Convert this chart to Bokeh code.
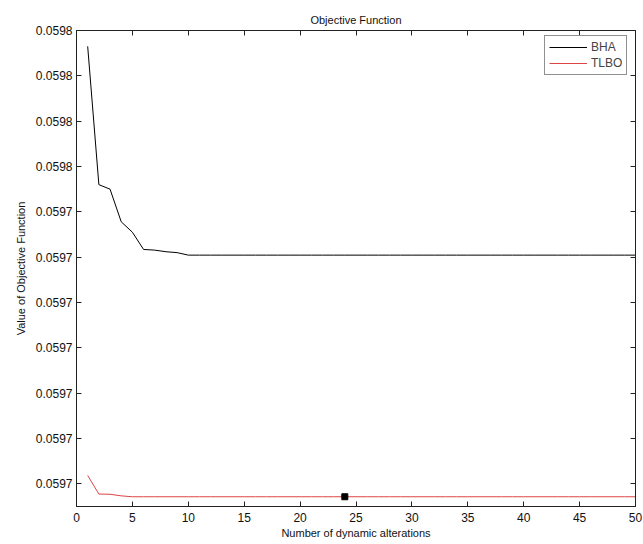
from bokeh.plotting import figure
from bokeh.models import (FixedTicker, CustomJSTickFormatter, LinearAxis, Legend,
                          LegendItem, Range1d, ColumnDataSource, CustomLabelingPolicy)
from bokeh.embed import file_html
from bokeh.resources import INLINE

# ---- data ----
iterations = list(range(1, 51))
bha = [0.0597553, 0.0597492, 0.0597490, 0.05974756, 0.0597471, 0.05974634, 0.05974631,
       0.05974624, 0.0597462] + [0.05974609] * 41
tlbo = [0.05973637, 0.05973555, 0.05973554, 0.05973547] + [0.05973543] * 46
marker_x = [24]
marker_y = [0.05973543]

x_ticks = [0, 5, 10, 15, 20, 25, 30, 35, 40, 45, 50]
y_ticks = [0.059736, 0.059738, 0.059740, 0.059742, 0.059744, 0.059746,
           0.059748, 0.059750, 0.059752, 0.059754, 0.059756]
y_tick_labels = ["0.0597", "0.0597", "0.0597", "0.0597", "0.0597", "0.0597",
                 "0.0597", "0.0598", "0.0598", "0.0598", "0.0598"]
y_min, y_max = 0.059735, 0.059756

FONT = "Liberation Sans"
AX = "#222222"

p = figure(width=643, height=544, min_border_left=76, min_border_right=8,
           min_border_top=30, min_border_bottom=38,
           x_range=Range1d(0, 50), y_range=Range1d(y_min, y_max),
           output_backend="svg", toolbar_location=None, title="Objective Function")

p.title.text_font = FONT
p.title.text_font_size = "11px"
p.title.text_font_style = "normal"
p.title.align = "center"
p.title.standoff = 10
p.title.text_color = "#111111"

p.xgrid.visible = False
p.ygrid.visible = False
p.outline_line_color = AX
p.background_fill_color = "white"
p.border_fill_color = "white"

xt = FixedTicker(ticks=x_ticks)
yt = FixedTicker(ticks=y_ticks)
yfmt = CustomJSTickFormatter(args=dict(tvals=y_ticks, tlabels=y_tick_labels), code="""
let best = 0;
for (let i = 0; i < tvals.length; i++) {
  if (Math.abs(tvals[i] - tick) < Math.abs(tvals[best] - tick)) best = i;
}
return tlabels[best];
""")

def style_axis(ax, show_labels=True):
    ax.major_tick_in = 5
    ax.major_tick_out = 0
    ax.minor_tick_line_color = None
    ax.axis_line_color = AX
    ax.major_tick_line_color = AX
    ax.major_label_text_font = FONT
    ax.major_label_text_color = "#111111"
    ax.major_label_text_font_size = "12px"
    ax.axis_label_text_font = FONT
    ax.axis_label_text_font_style = "normal"
    ax.axis_label_text_font_size = "11px"
    ax.axis_label_text_color = "#111111"
    if not show_labels:
        ax.major_label_policy = CustomLabelingPolicy(code="return new Set()")
        ax.major_label_text_font_size = "0px"
        ax.major_label_standoff = 0

xa = p.xaxis[0]
xa.ticker = xt
style_axis(xa)
xa.axis_label = "Number of dynamic alterations"
xa.major_label_standoff = 6
xa.axis_label_standoff = 2

ya = p.yaxis[0]
ya.ticker = yt
ya.formatter = yfmt
style_axis(ya)
ya.axis_label = "Value of Objective Function"
ya.major_label_standoff = 4
ya.axis_label_standoff = 6

top_ax = LinearAxis(ticker=xt)
style_axis(top_ax, show_labels=False)
p.add_layout(top_ax, "above")
right_ax = LinearAxis(ticker=yt)
style_axis(right_ax, show_labels=False)
p.add_layout(right_ax, "right")

src = ColumnDataSource(dict(x=iterations, bha=bha, tlbo=tlbo))
r1 = p.line("x", "bha", source=src, line_color="black", line_width=1)
r2 = p.line("x", "tlbo", source=src, line_color="#dd4444", line_width=1)
p.scatter(marker_x, marker_y, marker="square", size=6, color="black")

legend = Legend(items=[LegendItem(label="BHA", renderers=[r1]),
                       LegendItem(label="TLBO", renderers=[r2])],
                location=(468, 431), margin=0, padding=4, spacing=2,
                glyph_width=38, glyph_height=12, label_height=12,
                label_standoff=4, label_text_font=FONT, label_text_font_size="12px",
                border_line_color=AX, border_line_width=1,
                background_fill_color="white", background_fill_alpha=1)
p.add_layout(legend, "center")

open("out.html", "w").write(file_html(p, INLINE))
